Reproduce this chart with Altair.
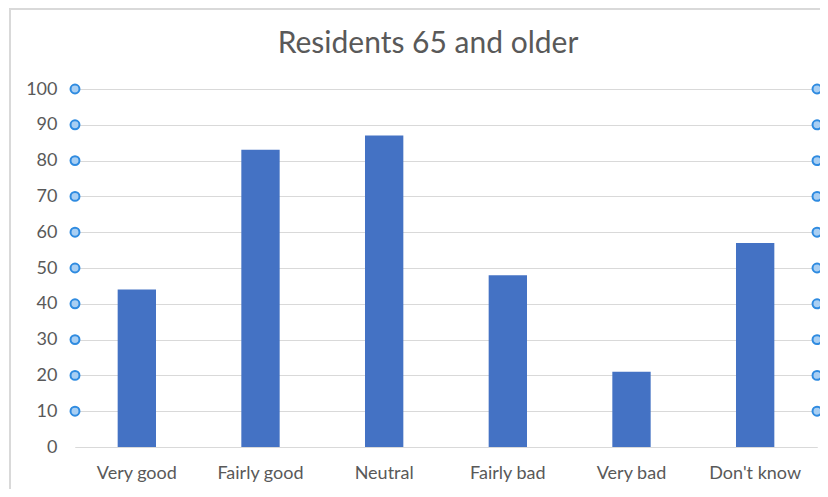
import altair as alt
import pandas as pd

categories = ["Very good", "Fairly good", "Neutral", "Fairly bad", "Very bad", "Don't know"]
values = [44, 83, 87, 48, 21, 57]
handle_levels = [10, 20, 30, 40, 50, 60, 70, 80, 90, 100]
y_ticks = [0, 10, 20, 30, 40, 50, 60, 70, 80, 90, 100]
title_text = ["Residents 65 and older"]

W, H = 742, 358
FONT = "Lato"
GREY = "#595959"

bars_df = pd.DataFrame({"category": categories, "value": values})
handles_df = pd.DataFrame({"level": handle_levels})
title_df = pd.DataFrame({"t": title_text})

y_scale = alt.Scale(domain=[0, 100], nice=False)
y_axis = alt.Axis(title=None, values=y_ticks, labelFontSize=18, labelColor=GREY,
                  labelFont=FONT, ticks=False, domain=False, labelOverlap=False,
                  grid=True, gridColor="#d9d9d9", labelPadding=18)

bars = alt.Chart(bars_df).mark_bar(color="#4472C4").encode(
    x=alt.X("category:N", sort=categories,
            scale=alt.Scale(paddingInner=0.69, paddingOuter=0.345),
            axis=alt.Axis(title=None, labelAngle=0, labelFontSize=18, labelColor=GREY,
                          labelFont=FONT, ticks=False, domain=True, domainColor="#d9d9d9",
                          labelPadding=17)),
    y=alt.Y("value:Q", scale=y_scale, axis=y_axis),
)

handle_style = dict(shape="circle", size=80, filled=True, fill="#a9cff3",
                    stroke="#2f8be0", strokeWidth=2, opacity=1, clip=False)

left_handles = alt.Chart(handles_df).mark_point(**handle_style).encode(
    x=alt.value(0), y=alt.Y("level:Q", scale=y_scale, axis=y_axis))
right_handles = alt.Chart(handles_df).mark_point(**handle_style).encode(
    x=alt.value(W), y=alt.Y("level:Q", scale=y_scale, axis=y_axis))

border = alt.Chart(bars_df).mark_rect(fill=None, stroke="#d9d9d9", strokeWidth=1.5,
                                      clip=False).encode(
    x=alt.value(-65), x2=alt.value(W + 100), y=alt.value(-80), y2=alt.value(405))

title = alt.Chart(title_df).mark_text(font=FONT, fontSize=30, color=GREY, align="center",
                                      baseline="middle", clip=False).encode(
    text="t:N", x=alt.value(353), y=alt.value(-45))

chart = alt.layer(border, bars, left_handles, right_handles, title).properties(
    width=W, height=H,
    autosize=alt.AutoSizeParams(type="none"),
    padding={"left": 67, "top": 81, "right": 3, "bottom": 42},
).configure_view(stroke=None)

chart.save("out.html", embed_options={"renderer": "svg", "actions": False})
